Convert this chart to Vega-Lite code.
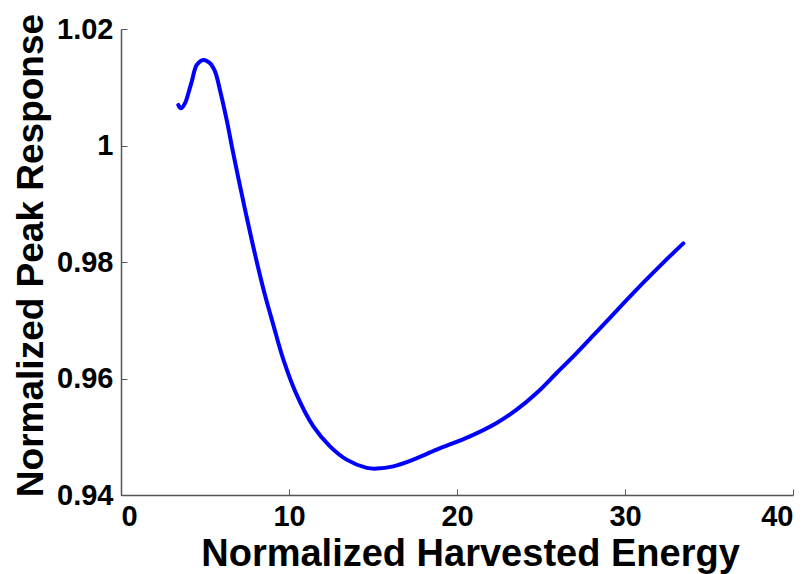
{
  "$schema": "https://vega.github.io/schema/vega-lite/v6.json",
  "autosize": "none",
  "padding": {"left": 121, "top": 29, "right": 16, "bottom": 79},
  "width": 672,
  "height": 466,
  "background": "white",
  "config": {
    "view": {"stroke": null},
    "font": "Liberation Sans"
  },
  "data": {
    "values": [
      {"x": 3.41, "y": 1.00696},
      {"x": 3.57, "y": 1.0064},
      {"x": 3.81, "y": 1.00726},
      {"x": 4.01, "y": 1.00897},
      {"x": 4.21, "y": 1.01096},
      {"x": 4.51, "y": 1.01383},
      {"x": 4.9, "y": 1.01468},
      {"x": 5.3, "y": 1.01412},
      {"x": 5.6, "y": 1.01268},
      {"x": 5.89, "y": 1.00954},
      {"x": 6.29, "y": 1.00439},
      {"x": 6.68, "y": 0.99868},
      {"x": 6.98, "y": 0.99448},
      {"x": 7.48, "y": 0.98773},
      {"x": 8.08, "y": 0.98005},
      {"x": 8.57, "y": 0.97432},
      {"x": 9.07, "y": 0.96917},
      {"x": 9.66, "y": 0.9633},
      {"x": 10.46, "y": 0.9572},
      {"x": 11.45, "y": 0.95178},
      {"x": 12.44, "y": 0.94835},
      {"x": 13.43, "y": 0.94607},
      {"x": 14.63, "y": 0.94465},
      {"x": 15.22, "y": 0.94453},
      {"x": 16.21, "y": 0.94492},
      {"x": 17.4, "y": 0.94607},
      {"x": 18.79, "y": 0.94779},
      {"x": 20.77, "y": 0.95007},
      {"x": 22.36, "y": 0.95237},
      {"x": 23.55, "y": 0.95465},
      {"x": 24.74, "y": 0.95751},
      {"x": 25.93, "y": 0.96094},
      {"x": 27.13, "y": 0.9644},
      {"x": 28.51, "y": 0.9686},
      {"x": 29.7, "y": 0.97225},
      {"x": 31.09, "y": 0.97645},
      {"x": 32.28, "y": 0.9799},
      {"x": 33.47, "y": 0.9832}
    ]
  },
  "mark": {"type": "line", "color": "#0000ff", "strokeWidth": 4, "interpolate": "catmull-rom", "strokeCap": "round", "strokeJoin": "round"},
  "encoding": {
    "x": {
      "field": "x", "type": "quantitative",
      "scale": {"domain": [0, 40], "nice": false, "zero": false},
      "axis": {
        "title": "Normalized Harvested Energy",
        "values": [0, 10, 20, 30, 40],
        "grid": false,
        "domainColor": "#555555", "domainWidth": 1.5,
        "tickColor": "#555555", "tickSize": -6, "tickWidth": 1,
        "labelFont": "Liberation Sans", "labelFontWeight": "bold", "labelFontSize": 29, "labelColor": "black",
        "labelPadding": 13,
        "titleFont": "Liberation Sans", "titleFontWeight": "bold", "titleFontSize": 38, "titleColor": "black",
        "titleX": 349, "titleY": 70, "titleBaseline": "alphabetic", "titleAlign": "center"
      }
    },
    "y": {
      "field": "y", "type": "quantitative",
      "scale": {"domain": [0.94, 1.02], "nice": false, "zero": false},
      "axis": {
        "title": "Normalized Peak Response",
        "values": [0.94, 0.96, 0.98, 1.0, 1.02],
        "labelExpr": "datum.value == 1 ? '1' : format(datum.value, '.2f')",
        "grid": false,
        "domainColor": "#555555", "domainWidth": 1.5,
        "tickColor": "#555555", "tickSize": -6, "tickWidth": 1,
        "labelFont": "Liberation Sans", "labelFontWeight": "bold", "labelFontSize": 29, "labelColor": "black",
        "labelPadding": 14,
        "titleFont": "Liberation Sans", "titleFontWeight": "bold", "titleFontSize": 37, "titleColor": "black",
        "titleX": -79, "titleY": 226, "titleBaseline": "alphabetic", "titleAlign": "center", "titleAngle": -90
      }
    }
  }
}
